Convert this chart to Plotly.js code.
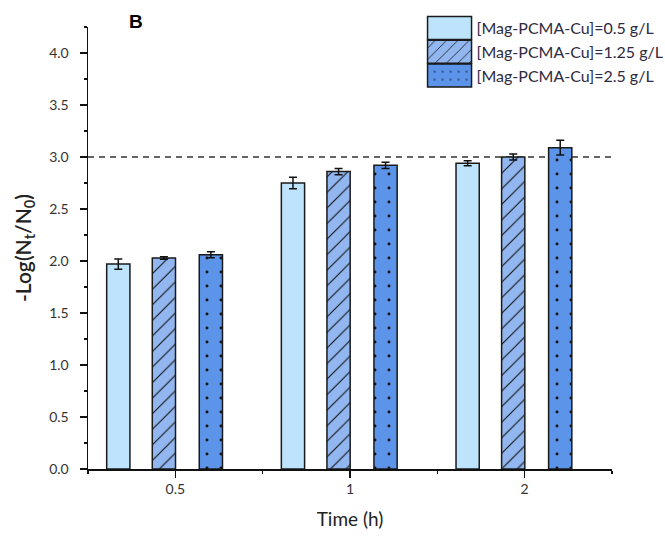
<!DOCTYPE html>
<html>
<head>
<meta charset="utf-8">
<script src="https://cdn.plot.ly/plotly-3.0.1.min.js"></script>
<style>html,body{margin:0;padding:0;background:#fff;}#chart{width:665px;height:537px;}</style>
</head>
<body>
<div id="chart"></div>
<script>
// ---- data ----
var timeLabels = ['0.5', '1', '2'];
var seriesNames = ['[Mag-PCMA-Cu]=0.5 g/L', '[Mag-PCMA-Cu]=1.25 g/L', '[Mag-PCMA-Cu]=2.5 g/L'];
var conc05 = [1.97, 2.75, 2.94];
var conc05Err = [0.05, 0.055, 0.025];
var conc125 = [2.03, 2.86, 3.00];
var conc125Err = [0.012, 0.03, 0.03];
var conc25 = [2.06, 2.92, 3.09];
var conc25Err = [0.028, 0.03, 0.07];
var threshold = 3.0;

// ---- styling ----
var xPos = timeLabels.map(function (_, i) { return i; });
var colors = ['#bde4fc', '#92b7f0', '#5b94e8'];
var patterns = ['', '/', '.'];
var offsets = [-0.393, -0.132, 0.137];
var barW = 0.133;
var values = [conc05, conc125, conc25];
var errs = [conc05Err, conc125Err, conc25Err];
var font = 'Lato, "Open Sans", sans-serif';

var traces = values.map(function (v, k) {
  var marker = {color: colors[k], line: {color: '#1a1a1a', width: 1.5}};
  if (patterns[k] === '/') {
    marker.pattern = {shape: '/', fgcolor: '#111', bgcolor: colors[k], fillmode: 'replace', size: 11, solidity: 0.1};
  } else if (patterns[k] === '.') {
    marker.pattern = {shape: '.', fgcolor: '#111', bgcolor: colors[k], fillmode: 'replace', size: 14, solidity: 0.035};
  }
  return {
    type: 'bar', x: xPos, y: v, name: seriesNames[k],
    offset: offsets[k], width: barW, marker: marker,
    error_y: {type: 'data', array: errs[k], visible: true, color: '#111', thickness: 1.5, width: 4}
  };
});

var layout = {
  width: 665, height: 537,
  margin: {l: 88, r: 53, t: 27, b: 68, autoexpand: false},
  paper_bgcolor: '#fff', plot_bgcolor: '#fff',
  barmode: 'overlay',
  font: {family: font, color: '#333'},
  showlegend: true,
  legend: {x: 0.627, y: 1.036, xanchor: 'left', yanchor: 'top', itemwidth: 50,
    font: {size: 16, color: '#2e2a40', family: font}, bgcolor: 'rgba(0,0,0,0)', tracegroupgap: 0},
  xaxis: {
    range: [-0.5, 2.5], tickvals: xPos, ticktext: timeLabels,
    showline: true, linecolor: '#111', linewidth: 1.5,
    ticks: 'outside', ticklen: 7, tickwidth: 1.5, tickcolor: '#111',
    tickfont: {size: 14, color: '#333'}, showgrid: false, zeroline: false,
    minor: {tick0: -0.5, dtick: 1, ticks: 'outside', ticklen: 3, tickcolor: '#111', showgrid: false},
    title: {text: 'Time (h)', font: {size: 19, color: '#222'}, standoff: 16}
  },
  yaxis: {
    range: [0, 4.25], dtick: 0.5, tickformat: '.1f',
    showline: true, linecolor: '#111', linewidth: 1.5,
    ticks: 'outside', ticklen: 7, tickwidth: 1.5, tickcolor: '#111', ticklabelstandoff: 8,
    tickfont: {size: 14, color: '#333'}, showgrid: false, zeroline: false,
    minor: {dtick: 0.25, ticks: 'outside', ticklen: 3, tickcolor: '#111', showgrid: false},
    title: {text: '-Log(N<sub>t</sub>/N<sub>0</sub>)', font: {size: 21, color: '#222', weight: 600}, standoff: 12}
  },
  shapes: [{type: 'line', xref: 'paper', x0: 0, x1: 1, yref: 'y', y0: threshold, y1: threshold,
    line: {color: '#333', width: 1.5, dash: '6px,5px'}, layer: 'below'}],
  annotations: [{text: '<b>B</b>', xref: 'paper', yref: 'paper', x: 0.092, y: 1.012,
    xanchor: 'center', yanchor: 'middle', showarrow: false,
    font: {size: 19, family: '"Liberation Sans", Arial, sans-serif', color: '#000'}}]
};

// enlarge the legend swatches to match the reference's wide boxes
function widenSwatches(gd) {
  var items = gd.querySelectorAll('.legend g.traces');
  items.forEach(function (item) {
    var txt = item.querySelector('text.legendtext');
    var path = item.querySelector('.legendpoints path');
    if (!txt || !path) return;
    var tr = txt.getBoundingClientRect();
    var pr = path.getBoundingClientRect();
    var cx = (pr.left + pr.right) / 2;
    var desired = tr.left - 5 - 22;
    var dx = desired - cx;
    var hw = 22, hh = 11.5;
    path.setAttribute('d', 'M' + (dx + hw) + ',' + hh + 'H' + (dx - hw) + 'V' + (-hh) + 'H' + (dx + hw) + 'Z');
  });
}

Plotly.newPlot('chart', traces, layout, {displayModeBar: false, staticPlot: true}).then(function (gd) {
  widenSwatches(gd);
});
</script>
</body>
</html>
